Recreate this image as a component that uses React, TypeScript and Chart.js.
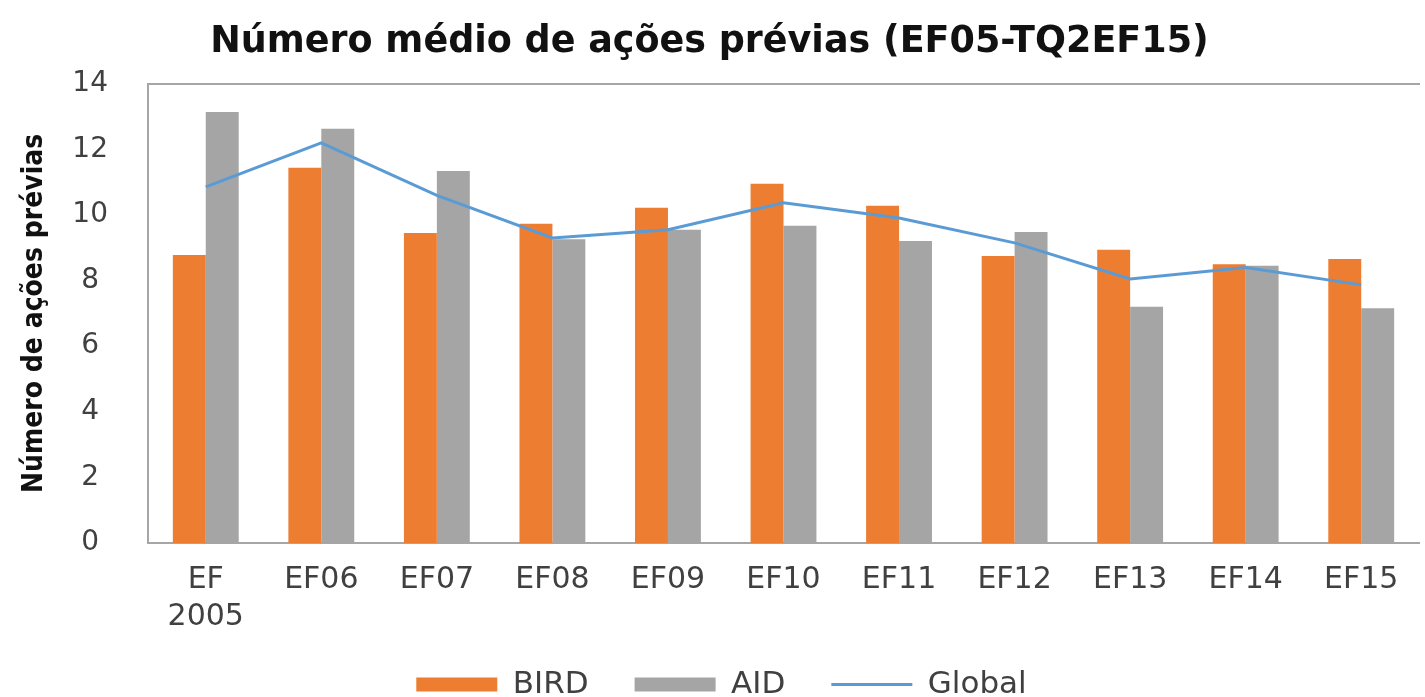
import React, { useEffect, useRef } from "react";
import { Chart, registerables } from "chart.js";

Chart.register(...registerables);

const categories: (string | string[])[] = [
  ["EF", "2005"], "EF06", "EF07", "EF08", "EF09", "EF10", "EF11", "EF12", "EF13", "EF14", "EF15",
];
const birdValues = [8.78, 11.44, 9.45, 9.73, 10.22, 10.95, 10.28, 8.75, 8.94, 8.5, 8.66];
const aidValues = [13.14, 12.63, 11.34, 9.26, 9.55, 9.67, 9.21, 9.48, 7.2, 8.45, 7.16];
const globalValues = [10.86, 12.2, 10.6, 9.3, 9.55, 10.37, 9.91, 9.15, 8.05, 8.4, 7.87];
const yTicks = [0, 2, 4, 6, 8, 10, 12, 14];

const TITLE = "Número médio de ações prévias (EF05-TQ2EF15)";
const Y_TITLE = "Número de ações prévias";
const ORANGE = "#ED7D31";
const GRAY = "#A5A5A5";
const BLUE = "#5B9BD5";
const TEXT = "#404040";
const AXIS = "#A6A6A6";
const FONT = "'DejaVu Sans', sans-serif";

export default function App() {
  const ref = useRef<HTMLCanvasElement | null>(null);

  useEffect(() => {
    if (!ref.current) return;
    const legendFit = {
      id: "legendFit",
      beforeInit(chart: any) {
        const legend = chart.legend;
        if (!legend) return;
        const orig = legend.fit;
        legend.fit = function () {
          orig.call(this);
          this.height = 62;
        };
      },
      afterLayout(chart: any) {
        if (chart.legend) {
          chart.legend.top -= 12;
          chart.legend.left += 24;
        }
      },
    };
    const chart = new Chart(ref.current, {
      type: "bar",
      data: {
        labels: categories as any,
        datasets: [
          {
            type: "bar",
            label: "BIRD",
            data: birdValues,
            backgroundColor: ORANGE,
            borderWidth: 0,
            order: 1,
            categoryPercentage: 0.57,
            barPercentage: 1,
          },
          {
            type: "bar",
            label: "AID",
            data: aidValues,
            backgroundColor: GRAY,
            borderWidth: 0,
            order: 2,
            categoryPercentage: 0.57,
            barPercentage: 1,
          },
          {
            type: "line",
            label: "Global",
            data: globalValues,
            borderColor: BLUE,
            backgroundColor: BLUE,
            borderWidth: 3,
            pointRadius: 0,
            tension: 0,
            order: 0,
          } as any,
        ],
      },
      options: {
        responsive: false,
        animation: false,
        layout: { padding: { left: 0, right: 6, top: 0, bottom: 0 } },
        plugins: {
          tooltip: { enabled: false },
          title: {
            display: true,
            text: TITLE,
            color: "#111111",
            font: { family: FONT, size: 36.5, weight: "bold" },
            padding: { top: 21, bottom: 19 },
          },
          legend: {
            display: true,
            position: "bottom",
            labels: {
              usePointStyle: true,
              pointStyleWidth: 81,
              boxHeight: 14,
              padding: 46,
              color: TEXT,
              font: { family: FONT, size: 31 },
              generateLabels: (c: any) =>
                c.data.datasets.map((ds: any, i: number) => ({
                  text: ds.label,
                  fillStyle: i === 2 ? BLUE : ds.backgroundColor,
                  strokeStyle: i === 2 ? BLUE : ds.backgroundColor,
                  lineWidth: i === 2 ? 3 : 0,
                  pointStyle: i === 2 ? "line" : "rect",
                  hidden: false,
                  datasetIndex: i,
                  fontColor: TEXT,
                })),
            },
          },
        },
        scales: {
          x: {
            position: "bottom",
            offset: true,
            grid: { display: false, drawTicks: false },
            border: { display: true, color: AXIS, width: 2 },
            ticks: {
              color: TEXT,
              font: { family: FONT, size: 30, lineHeight: 1.25 },
              padding: 18,
              maxRotation: 0,
              autoSkip: false,
            },
            afterFit: (s: any) => {
              s.height = 92;
            },
          },
          xTop: {
            type: "category",
            position: "top",
            offset: true,
            grid: { display: false, drawTicks: false },
            border: { display: true, color: AXIS, width: 2 },
            ticks: { display: false },
            afterFit: (s: any) => {
              s.height = 0;
            },
          } as any,
          y: {
            min: 0,
            max: 14,
            afterBuildTicks: (s: any) => {
              s.ticks = yTicks.map((v) => ({ value: v }));
            },
            grid: { display: false, drawTicks: false },
            border: { display: true, color: AXIS, width: 2 },
            ticks: {
              color: TEXT,
              font: { family: FONT, size: 28 },
              padding: 40,
              crossAlign: "center",
            },
            title: {
              display: true,
              text: Y_TITLE,
              color: "#111111",
              font: { family: "'DejaVu Sans Condensed', 'Liberation Sans Narrow', 'DejaVu Sans', sans-serif", size: 28, weight: "bold" },
              padding: { top: 18, bottom: 0 },
            },
            afterFit: (s: any) => {
              s.width = 148;
            },
          },
        },
      },
      plugins: [legendFit],
    });
    return () => chart.destroy();
  }, []);

  return (
    <div style={{ position: "absolute", left: 0, top: 0, width: 1425, height: 697, background: "#fff" }}>
      <canvas ref={ref} width={1425} height={697} style={{ display: "block" }} />
    </div>
  );
}
